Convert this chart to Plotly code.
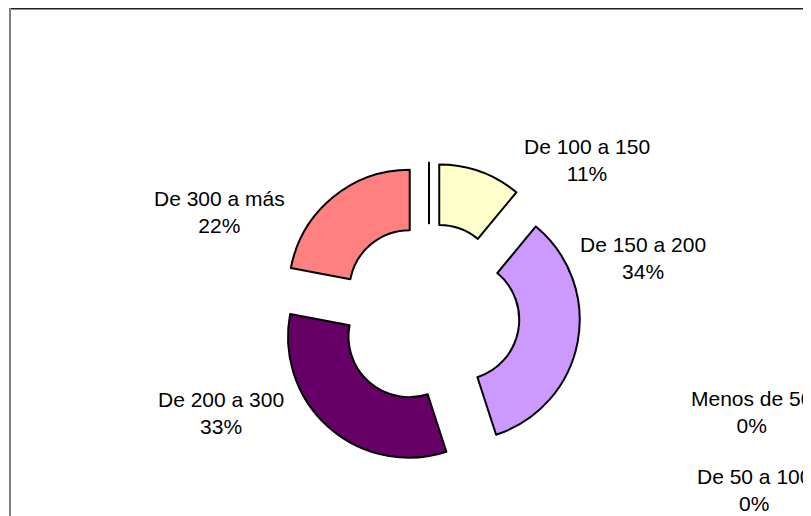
import plotly.graph_objects as go

# data (percent of total)
labels = ["Menos de 50", "De 50 a 100", "De 100 a 150", "De 150 a 200", "De 200 a 300", "De 300 a más"]
values = [0, 0, 11, 34, 33, 22]
colors = ["#9999FF", "#993366", "#FFFFCC", "#CC99FF", "#660066", "#FF8080"]

# the page body has an 8px margin, so the figure is drawn 8px smaller / shifted
OFF = 8
W, H = 811 - OFF, 516 - OFF

# label block centres in window pixels (Excel-style placement)
label_pos = [(751, 412), (754, 490), (587, 160), (643, 258), (221, 413), (219, 212)]

total = sum(values)


def px(x):
    return (x - OFF) / W


def py(y):
    return 1 - (y - OFF) / H


fig = go.Figure(go.Pie(
    labels=labels,
    values=values,
    sort=False,
    direction="clockwise",
    rotation=0,
    hole=0.5,
    pull=[0.25] * len(values),
    marker=dict(colors=colors, line=dict(color="#000000", width=2)),
    textinfo="none",
    hoverinfo="label+percent",
    showlegend=False,
    domain=dict(x=[px(277.75), px(580.25)], y=[py(465.25), py(162.75)]),
))

for lab, v, (lx, ly) in zip(labels, values, label_pos):
    pct = round(v / total * 100)
    fig.add_annotation(
        x=px(lx), y=py(ly), xref="paper", yref="paper",
        text=f"{lab}<br>{pct}%", showarrow=False,
        xanchor="center", yanchor="middle",
        font=dict(family="Liberation Sans, Arial, sans-serif", size=21, color="#000000"),
    )

# chart-area border (right/bottom edges fall outside the frame)
fig.add_shape(type="line", xref="paper", yref="paper",
              x0=px(10), x1=1.05, y0=1 - 0.8 / H, y1=1 - 0.8 / H,
              line=dict(color="#222222", width=1.5))
fig.add_shape(type="line", xref="paper", yref="paper",
              x0=px(10), x1=px(10), y0=1.01, y1=-0.05,
              line=dict(color="#808080", width=2))

fig.update_layout(
    width=W, height=H,
    margin=dict(l=0, r=0, t=0, b=0),
    paper_bgcolor="#FFFFFF",
    plot_bgcolor="#FFFFFF",
)

fig.write_html("out.html")
